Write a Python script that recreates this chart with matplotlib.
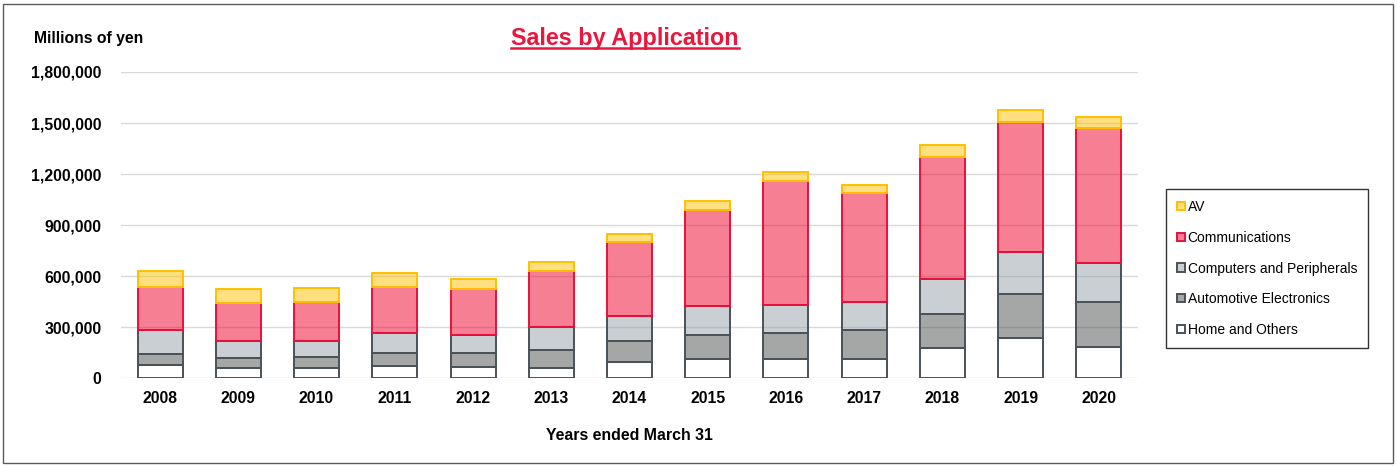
import numpy as np
import matplotlib
matplotlib.use("Agg")
import matplotlib.pyplot as plt
from matplotlib.patches import Rectangle
from matplotlib.lines import Line2D
from matplotlib.ticker import FuncFormatter

plt.rcParams['font.family'] = ['Liberation Sans', 'DejaVu Sans']

## data (millions of yen)
years = ['2008', '2009', '2010', '2011', '2012', '2013', '2014',
         '2015', '2016', '2017', '2018', '2019', '2020']
home = [76000, 61000, 57000, 71000, 63000, 61000, 96000,
        110000, 110000, 110000, 178000, 235000, 182000]
auto = [67000, 55000, 67000, 78000, 82000, 104000, 122000,
        143000, 153000, 171000, 200000, 259000, 265000]
comp = [138000, 102000, 94000, 114000, 110000, 135000, 149000,
        172000, 166000, 166000, 202000, 249000, 229000]
comm = [254000, 225000, 229000, 274000, 267000, 331000, 431000,
        565000, 730000, 639000, 722000, 761000, 793000]
av = [96000, 79000, 82000, 79000, 60000, 50000, 47000,
      53000, 51000, 49000, 69000, 71000, 64000]

series = [
    ('Home and Others', home, '#FFFFFF', '#4A5258'),
    ('Automotive Electronics', auto, '#4D5151', '#4A5258'),
    ('Computers and Peripherals', comp, '#97A1A9', '#4A5258'),
    ('Communications', comm, '#EF002B', '#E8113A'),
    ('AV', av, '#FFC000', '#FFC000'),
]

fig = plt.figure(figsize=(13.97, 4.66), dpi=100)
ax = fig.add_axes([0.0866, 0.1888, 0.728, 0.6567])

x = np.arange(len(years))
bottom = np.zeros(len(years))
handles = []
for name, vals, fc, ec in series:
    vals = np.array(vals, dtype=float)
    alpha = 1.0 if fc == '#FFFFFF' else 0.5
    face = matplotlib.colors.to_rgba(fc, alpha)
    b = ax.bar(x, vals, 0.575, bottom=bottom, facecolor=face,
               edgecolor=ec, linewidth=1.4, zorder=3, label=name)
    handles.append(b)
    bottom += vals

ax.set_xlim(-0.5, len(years) - 0.5)
ax.set_ylim(0, 1800000)
ax.set_yticks(np.arange(0, 1800001, 300000))
ax.yaxis.set_major_formatter(FuncFormatter(lambda v, p: f'{int(v):,}'))
ax.set_xticks(x)
ax.set_xticklabels(years)
ax.grid(axis='y', color='#D9D9D9', lw=1, zorder=0)
ax.set_axisbelow(True)
for s in ax.spines.values():
    s.set_visible(False)
ax.tick_params(axis='both', length=0, labelsize=11.3)
ax.tick_params(axis='y', pad=14)
ax.tick_params(axis='x', pad=9)
for lbl in ax.get_xticklabels() + ax.get_yticklabels():
    lbl.set_fontweight('bold')

ax.set_xlabel('Years ended March 31', fontsize=11.4, fontweight='bold', labelpad=16)
fig.text(34 / 1397, 1 - 38 / 466, 'Millions of yen', fontsize=11.3,
         fontweight='bold', va='center', ha='left')

title = fig.text(625 / 1397, 1 - 38 / 466, 'Sales by Application', fontsize=16.8,
                 fontweight='bold', color='#E8173E', ha='center', va='center')
fig.canvas.draw()
bb = title.get_window_extent().transformed(fig.transFigure.inverted())
uy = bb.y0 + 0.004
fig.add_artist(Line2D([bb.x0, bb.x1], [uy, uy], transform=fig.transFigure,
                      color='#E8173E', lw=1.8))

leg = ax.legend(handles[::-1], [s[0] for s in series][::-1],
                loc='center left', bbox_to_anchor=(1166 / 1397, 1 - 268.5 / 466),
                bbox_transform=fig.transFigure, fontsize=10, frameon=True,
                fancybox=False, edgecolor='black', labelspacing=1.2,
                handlelength=0.55, handleheight=0.55, handletextpad=0.2,
                borderpad=0.8, borderaxespad=0)
leg.get_frame().set_linewidth(1.0)

fig.add_artist(Rectangle((3 / 1397, 3 / 466), 1 - 7 / 1397, 1 - 7 / 466,
                         transform=fig.transFigure, fill=False,
                         edgecolor='#595959', lw=1.0))

fig.savefig('out.png', dpi=100)
